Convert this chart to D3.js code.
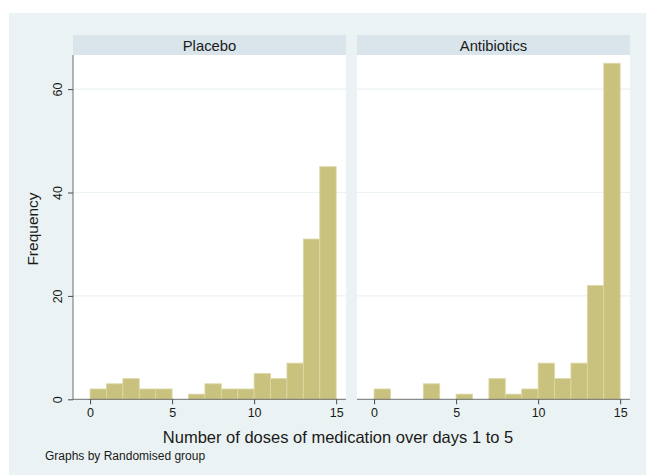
<!DOCTYPE html>
<html>
<head>
    <meta charset="utf-8">
    <title>Doses histogram</title>
    <script src="https://cdn.jsdelivr.net/npm/d3@7"></script>
    <style>
        body { margin: 0; background: #fff; }
        text { font-family: Arial, "Liberation Sans", sans-serif; fill: #1a1a1a; }
    </style>
</head>
<body>
    <svg width="646" height="475" id="mainsvg"></svg>
    <script>
        // histogram bins: [0,1), [1,2) ... [14,15]
        const binStarts = d3.range(0, 15);
        const groups = ['Placebo', 'Antibiotics'];
        const placeboCounts = [2, 3, 4, 2, 2, 0, 1, 3, 2, 2, 5, 4, 7, 31, 45];
        const antibioticsCounts = [2, 0, 0, 3, 0, 1, 0, 4, 1, 2, 7, 4, 7, 22, 65];
        const xTicks = [0, 5, 10, 15];
        const yTicks = [0, 20, 40, 60];

        const svg = d3.select('#mainsvg');

        // outer background
        svg.append('rect')
            .attr('x', 9).attr('y', 13)
            .attr('width', 637).attr('height', 462)
            .attr('fill', '#eaf2f3');

        const plotTop = 55, plotBottom = 399.3;
        const panelW = 273;
        const panelX = [73, 357];

        const yScale = d3.scaleLinear()
            .domain([0, 66.6])
            .range([plotBottom, plotTop]);

        const panels = [
            { name: groups[0], counts: placeboCounts },
            { name: groups[1], counts: antibioticsCounts }
        ];

        panels.forEach((p, i) => {
            const g = svg.append('g')
                .attr('transform', `translate(${panelX[i]},0)`);

            const xScale = d3.scaleLinear()
                .domain([-1.04, 15.6])
                .range([0, panelW]);

            // header strip
            g.append('rect')
                .attr('x', 0).attr('y', 35)
                .attr('width', panelW).attr('height', 20)
                .attr('fill', '#d9e5eb');
            g.append('text')
                .attr('x', panelW / 2).attr('y', 50.5)
                .attr('text-anchor', 'middle')
                .attr('font-size', '14.8px')
                .text(p.name);

            // plot area
            g.append('rect')
                .attr('x', 0).attr('y', plotTop)
                .attr('width', panelW).attr('height', plotBottom - plotTop)
                .attr('fill', '#ffffff');

            // gridlines
            g.selectAll('.grid')
                .data(yTicks.filter(d => d > 0))
                .join('line')
                .attr('x1', 0).attr('x2', panelW)
                .attr('y1', d => yScale(d)).attr('y2', d => yScale(d))
                .attr('stroke', '#eaf2f3')
                .attr('stroke-width', 1.2);

            // bars
            g.selectAll('.bar')
                .data(binStarts.map((b, k) => ({ x0: b, x1: b + 1, n: p.counts[k] })).filter(d => d.n > 0))
                .join('rect')
                .attr('x', d => xScale(d.x0))
                .attr('width', d => xScale(d.x1) - xScale(d.x0))
                .attr('y', d => yScale(d.n))
                .attr('height', d => yScale(0) - yScale(d.n))
                .attr('fill', '#c9c27e')
                .attr('stroke', '#ddd8a6')
                .attr('stroke-width', 0.8);

            // x axis
            const xAxis = d3.axisBottom(xScale)
                .tickValues(xTicks)
                .tickSize(5)
                .tickPadding(4)
                .tickSizeOuter(0);
            const xg = g.append('g')
                .attr('transform', `translate(0,${plotBottom})`)
                .call(xAxis);
            xg.select('.domain').attr('stroke', '#6e6e6e').attr('d', `M0,0H${panelW}`);
            xg.selectAll('.tick line').attr('stroke', '#4a4a4a');
            xg.selectAll('.tick text')
                .attr('font-size', '12.5px')
                .attr('fill', '#1a1a1a');

            if (i === 0) {
                const yAxis = d3.axisLeft(yScale)
                    .tickValues(yTicks)
                    .tickSize(5)
                    .tickSizeOuter(0);
                const yg = g.append('g').call(yAxis);
                yg.select('.domain').attr('stroke', '#6e6e6e')
                    .attr('d', `M0,${plotTop}V${plotBottom}`);
                yg.selectAll('.tick line').attr('stroke', '#4a4a4a');
                yg.selectAll('.tick text')
                    .attr('font-size', '12.5px')
                    .attr('fill', '#1a1a1a')
                    .attr('x', null)
                    .attr('dy', null)
                    .attr('text-anchor', 'middle')
                    .attr('transform', 'translate(-11,0) rotate(-90)');
            }
        });

        // axis titles and note
        svg.append('text')
            .attr('transform', 'translate(38,229) rotate(-90)')
            .attr('text-anchor', 'middle')
            .attr('font-size', '15.5px')
            .text('Frequency');

        svg.append('text')
            .attr('x', 338).attr('y', 443)
            .attr('text-anchor', 'middle')
            .attr('font-size', '16.5px')
            .text('Number of doses of medication over days 1 to 5');

        svg.append('text')
            .attr('x', 45).attr('y', 460)
            .attr('font-size', '12px')
            .text('Graphs by Randomised group');
    </script>
</body>
</html>
